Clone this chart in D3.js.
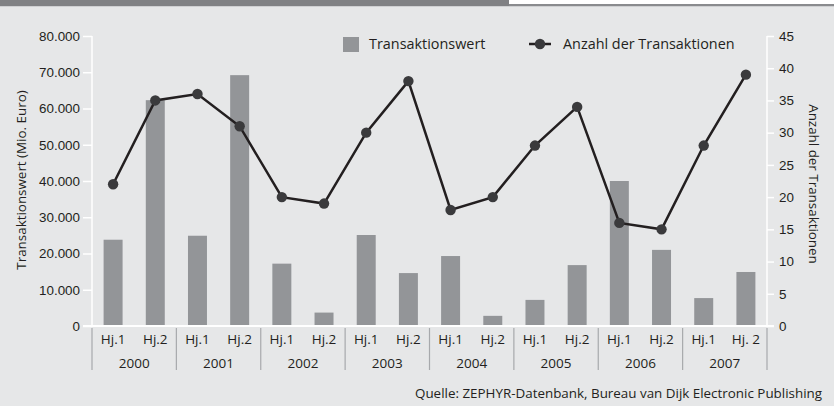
<!DOCTYPE html>
<html>
<head>
<meta charset="utf-8">
<script src="https://cdn.jsdelivr.net/npm/d3@7"></script>
<style>
  body { margin: 0; background: #e6e7e8; }
  svg { display: block; font-family: "Open Sans", sans-serif; }
</style>
</head>
<body>
<svg width="834" height="406"></svg>
<script>
// data
var years = ["2000", "2001", "2002", "2003", "2004", "2005", "2006", "2007"];
var halves = ["Hj.1", "Hj.2", "Hj.1", "Hj.2", "Hj.1", "Hj.2", "Hj.1", "Hj.2",
              "Hj.1", "Hj.2", "Hj.1", "Hj.2", "Hj.1", "Hj.2", "Hj.1", "Hj. 2"];
var werte = [23800, 62300, 24900, 69200, 17200, 3700, 25100, 14600,
             19300, 2800, 7200, 16800, 40000, 21000, 7700, 14900];
var anzahl = [22, 35, 36, 31, 20, 19, 30, 38, 18, 20, 28, 34, 16, 15, 28, 39];
var leftTicks = [0, 10000, 20000, 30000, 40000, 50000, 60000, 70000, 80000];
var rightTicks = [0, 5, 10, 15, 20, 25, 30, 35, 40, 45];

var svg = d3.select("svg"),
    width = +svg.attr("width"),
    height = +svg.attr("height");

var x0 = 92, x1 = 767, yTop = 36, yBase = 326;
var ids = d3.range(halves.length);

var de = d3.formatLocale({decimal: ",", thousands: ".", grouping: [3], currency: ["", "€"]});

var x = d3.scaleBand().domain(ids).range([x0, x1]).paddingInner(0.55).paddingOuter(0.275);
var xYear = d3.scaleBand().domain(years).range([x0, x1]);
var yL = d3.scaleLinear().domain([0, 80000]).range([yBase, yTop]);
var yR = d3.scaleLinear().domain([0, 45]).range([yBase, yTop]);

// top band
svg.append("rect").attr("x", 0).attr("y", 0).attr("width", width).attr("height", 6).attr("fill", "#ffffff");
svg.append("rect").attr("x", 0).attr("y", 4).attr("width", width).attr("height", 2).attr("fill", "#8a8b8e");
svg.append("rect").attr("x", 0).attr("y", 0).attr("width", 509).attr("height", 6).attr("fill", "#808184");
svg.append("rect").attr("x", 0).attr("y", 6).attr("width", width).attr("height", 1).attr("fill", "#cfd0d2");

// bars
svg.append("g")
    .selectAll("rect")
    .data(ids)
    .enter()
    .append("rect")
    .attr("x", function(i){ return x(i) })
    .attr("width", x.bandwidth())
    .attr("y", function(i){ return yL(werte[i]) })
    .attr("height", function(i){ return yBase - yL(werte[i]) })
    .attr("fill", "#939598");

// axes
var axL = svg.append("g")
    .attr("transform", "translate(" + x0 + ",0)")
    .call(d3.axisLeft(yL).tickValues(leftTicks).tickSize(9).tickPadding(3).tickFormat(de.format(",")));
var axR = svg.append("g")
    .attr("transform", "translate(" + x1 + ",0)")
    .call(d3.axisRight(yR).tickValues(rightTicks).tickSize(7).tickPadding(5));
[axL, axR].forEach(function(a){
    a.select(".domain").attr("stroke", "#ffffff").attr("stroke-width", 1.5);
    a.selectAll(".tick line").attr("stroke", "#ffffff").attr("stroke-width", 1.5);
    a.selectAll("text").attr("fill", "#231f20").style("font-size", "13.4px");
});
axL.select(".domain").attr("d", "M0," + yTop + "V" + yBase);
axR.select(".domain").attr("d", "M0," + yTop + "V" + yBase);

// baseline
svg.append("line")
    .attr("x1", x0 - 9).attr("x2", x1 + 7)
    .attr("y1", yBase).attr("y2", yBase)
    .attr("stroke", "#ffffff").attr("stroke-width", 2);

// category axis
svg.append("g")
    .selectAll("line")
    .data(years.concat(["end"]))
    .enter()
    .append("line")
    .attr("x1", function(d, i){ return x0 + i * xYear.bandwidth() })
    .attr("x2", function(d, i){ return x0 + i * xYear.bandwidth() })
    .attr("y1", yBase + 2).attr("y2", yBase + 44)
    .attr("stroke", "#a7a9ac").attr("stroke-width", 1.2);

svg.append("g")
    .selectAll("text")
    .data(ids)
    .enter()
    .append("text")
    .attr("x", function(i){ return x(i) + x.bandwidth() / 2 })
    .attr("y", yBase + 18)
    .attr("text-anchor", "middle")
    .style("font-size", "13.5px")
    .attr("fill", "#231f20")
    .text(function(i){ return halves[i] });

svg.append("g")
    .selectAll("text")
    .data(years)
    .enter()
    .append("text")
    .attr("x", function(d){ return xYear(d) + xYear.bandwidth() / 2 })
    .attr("y", yBase + 42)
    .attr("text-anchor", "middle")
    .style("font-size", "13.5px")
    .attr("fill", "#231f20")
    .text(function(d){ return d });

// line + dots
var line = d3.line()
    .x(function(i){ return x(i) + x.bandwidth() / 2 })
    .y(function(i){ return yR(anzahl[i]) });

svg.append("path")
    .datum(ids)
    .attr("d", line)
    .attr("fill", "none")
    .attr("stroke", "#231f20")
    .attr("stroke-width", 2.5);

svg.append("g")
    .selectAll("circle")
    .data(ids)
    .enter()
    .append("circle")
    .attr("cx", function(i){ return x(i) + x.bandwidth() / 2 })
    .attr("cy", function(i){ return yR(anzahl[i]) })
    .attr("r", 5.2)
    .attr("fill", "#3a3a3c");

// axis titles
svg.append("text")
    .attr("transform", "translate(26,180) rotate(-90)")
    .attr("text-anchor", "middle")
    .style("font-size", "13.4px")
    .attr("fill", "#231f20")
    .text("Transaktionswert (Mio. Euro)");

svg.append("text")
    .attr("transform", "translate(809,184) rotate(90)")
    .attr("text-anchor", "middle")
    .style("font-size", "13.4px")
    .attr("fill", "#231f20")
    .text("Anzahl der Transaktionen");

// legend
svg.append("rect")
    .attr("x", 343).attr("y", 37).attr("width", 16).attr("height", 15)
    .attr("fill", "#939598");
svg.append("text")
    .attr("x", 369).attr("y", 49)
    .style("font-size", "14.4px")
    .attr("fill", "#231f20")
    .text("Transaktionswert");
svg.append("line")
    .attr("x1", 529).attr("x2", 551).attr("y1", 44).attr("y2", 44)
    .attr("stroke", "#231f20").attr("stroke-width", 2.5);
svg.append("circle")
    .attr("cx", 540).attr("cy", 44).attr("r", 5.2)
    .attr("fill", "#3a3a3c");
svg.append("text")
    .attr("x", 563).attr("y", 49)
    .style("font-size", "14.4px")
    .attr("fill", "#231f20")
    .text("Anzahl der Transaktionen");

// source
svg.append("text")
    .attr("x", 822).attr("y", 398)
    .attr("text-anchor", "end")
    .style("font-size", "13.4px")
    .attr("fill", "#231f20")
    .text("Quelle: ZEPHYR-Datenbank, Bureau van Dijk Electronic Publishing");
</script>
</body>
</html>
